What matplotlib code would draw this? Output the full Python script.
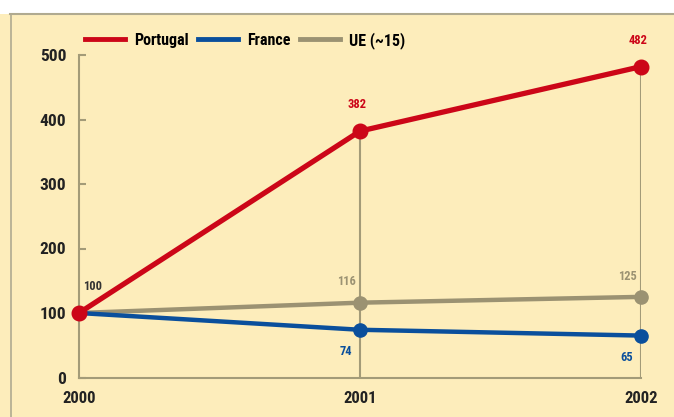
import matplotlib.pyplot as plt
from matplotlib.lines import Line2D
from matplotlib.patches import Rectangle

# Données
years = [2000, 2001, 2002]
portugal = [100, 382, 482]
france = [100, 74, 65]
ue15 = [100, 116, 125]
y_ticks = [0, 100, 200, 300, 400, 500]

bg = "#fdedbb"
red = "#cc0618"
blue = "#0a4f9c"
grey = "#9b9272"
axis_col = "#a39b78"

plt.rcParams["font.family"] = ["Roboto Condensed", "DejaVu Sans"]
plt.rcParams["font.weight"] = "bold"

fig = plt.figure(figsize=(6.74, 4.17), dpi=100, facecolor=bg)
# bande blanche en haut + cadre
fig.patches.append(Rectangle((0, 403 / 417), 1, 1, transform=fig.transFigure,
                             facecolor="white", edgecolor="none", zorder=0))
fig.lines.append(Line2D([10 / 674, 1], [403 / 417, 403 / 417], transform=fig.transFigure,
                        color="#b0aa90", lw=1.5))
fig.lines.append(Line2D([11 / 674, 11 / 674], [0, 403 / 417], transform=fig.transFigure,
                        color="#b0aa90", lw=1.2))

ax = fig.add_axes([79 / 674, (417 - 377.5) / 417, (641 - 79) / 674, (377.5 - 55) / 417])
ax.set_facecolor(bg)
ax.set_xlim(2000, 2002)
ax.set_ylim(0, 500)

# lignes verticales de repère
ax.vlines(years[1:], 0, portugal[1:], color=axis_col, lw=1.5, zorder=1)

ax.plot(years, ue15, color=grey, lw=3.2, marker="o", ms=9.5, clip_on=False, zorder=3)
ax.plot(years, france, color=blue, lw=3.2, marker="o", ms=9.5, clip_on=False, zorder=4)
ax.plot(years, portugal, color=red, lw=3.8, marker="o", ms=10.5, clip_on=False, zorder=5)

# étiquettes de valeurs
ax.annotate(str(portugal[0]), (years[0], portugal[0]), xytext=(3, 19), textcoords="offset points",
            ha="left", va="center", fontsize=9, color="#333333")
for x, v in zip(years[1:], portugal[1:]):
    ax.annotate(str(v), (x, v), xytext=(-2, 19), textcoords="offset points",
                ha="center", va="center", fontsize=9, color=red)
for x, v in zip(years[1:], ue15[1:]):
    ax.annotate(str(v), (x, v), xytext=(-10, 15), textcoords="offset points",
                ha="center", va="center", fontsize=9, color=grey)
for x, v in zip(years[1:], france[1:]):
    ax.annotate(str(v), (x, v), xytext=(-10, -16), textcoords="offset points",
                ha="center", va="center", fontsize=9, color=blue)

for s in ["top", "right"]:
    ax.spines[s].set_visible(False)
for s in ["left", "bottom"]:
    ax.spines[s].set_color(axis_col)
    ax.spines[s].set_linewidth(1.5)

ax.set_yticks(y_ticks)
ax.set_xticks(years)
ax.tick_params(axis="y", direction="in", length=5, width=1.5, color=axis_col,
               labelsize=12.5, pad=9, labelcolor="#222222")
ax.tick_params(axis="x", length=0, labelsize=12, pad=10, labelcolor="#222222")

handles = [Line2D([], [], color=red, lw=3.5),
           Line2D([], [], color=blue, lw=3.5),
           Line2D([], [], color=grey, lw=3.5)]
ax.legend(handles, ["Portugal", "France", "UE (~15)"], ncol=3, frameon=False,
          loc="lower left", bbox_to_anchor=(0.0, 1.0), fontsize=11.5,
          handlelength=2.5, handletextpad=0.55, columnspacing=0.6, borderaxespad=0)

fig.savefig("out.png", dpi=100, facecolor=bg)
